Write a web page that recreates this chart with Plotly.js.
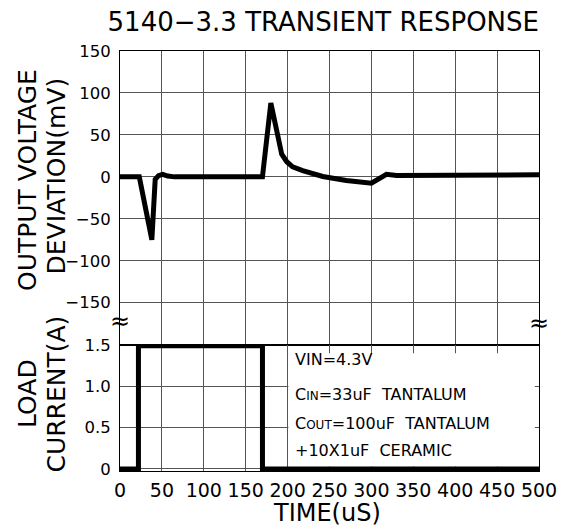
<!DOCTYPE html>
<html>
<head>
<meta charset="utf-8">
<script src="https://cdn.plot.ly/plotly-3.0.1.min.js"></script>
<style>html,body{margin:0;padding:0;background:#fff;}</style>
</head>
<body>
<div id="chart" style="width:563px;height:529px;"></div>
<script>
// ---- data ----
const timeVoltage = [0, 23, 38, 42, 46, 51, 57, 65, 170, 180, 193, 199, 206, 218, 242, 270, 300, 318, 330, 400, 500];
const voltageDev  = [0, 0, -75, -3, 1.5, 3, 1, 0, 0, 88, 27, 18, 12, 7.5, 0.5, -4.3, -7.5, 3, 1.5, 1.5, 2.5];
const timeCurrent = [0, 22, 22, 170, 170, 500];
const loadCurrent = [0, 0, 1.49, 1.49, 0, 0];
const xTickVals = [0, 50, 100, 150, 200, 250, 300, 350, 400, 450, 500];
const xTickText = ['0', '50', '100', '150', '200', '250', '300', '350', '400', '450', '500'];
const vTickVals = [-150, -100, -50, 0, 50, 100, 150];
const vTickText = ['\u2212150', '\u2212100', '\u221250', '0', '50', '100', '150'];
const iTickVals = [0, 0.5, 1.0, 1.5];
const iTickText = ['0', '0.5', '1.0', '1.5'];
const noteLines = ['VIN=4.3V',
  'C<span style="font-size:12px">IN</span>=33uF  TANTALUM',
  'C<span style="font-size:12px">OUT</span>=100uF  TANTALUM',
  '+10X1uF  CERAMIC'];

const FONT = 'DejaVu Sans, Verdana, sans-serif';
const gridCol = '#555';

const traces = [
  {x: timeVoltage, y: voltageDev, xaxis: 'x', yaxis: 'y', mode: 'lines',
   line: {color: '#000', width: 5}, hoverinfo: 'skip'},
  {x: timeCurrent, y: loadCurrent, xaxis: 'x2', yaxis: 'y2', mode: 'lines',
   line: {color: '#000', width: 5}, hoverinfo: 'skip'}
];

const axBase = {showline: true, linecolor: '#000', linewidth: 1, mirror: true,
  showgrid: true, gridcolor: gridCol, gridwidth: 1, zeroline: false, ticks: ''};

const noteY = [359, 394, 423, 450];
const annotations = [
  {text: 'OUTPUT VOLTAGE', xref: 'paper', yref: 'paper', x: (27 - 120) / 419, y: (471 - 180) / 420,
   textangle: -90, showarrow: false, xanchor: 'center', yanchor: 'middle', font: {family: FONT, size: 25, color: '#000'}},
  {text: 'DEVIATION(mV)', xref: 'paper', yref: 'paper', x: (55.5 - 120) / 419, y: (471 - 176) / 420,
   textangle: -90, showarrow: false, xanchor: 'center', yanchor: 'middle', font: {family: FONT, size: 25, color: '#000'}},
  {text: 'LOAD', xref: 'paper', yref: 'paper', x: (27 - 120) / 419, y: (471 - 394) / 420,
   textangle: -90, showarrow: false, xanchor: 'center', yanchor: 'middle', font: {family: FONT, size: 25, color: '#000'}},
  {text: 'CURRENT(A)', xref: 'paper', yref: 'paper', x: (55.5 - 120) / 419, y: (471 - 394) / 420,
   textangle: -90, showarrow: false, xanchor: 'center', yanchor: 'middle', font: {family: FONT, size: 25, color: '#000'}},
  {text: 'TIME(uS)', xref: 'paper', yref: 'paper', x: (327 - 120) / 419, y: (471 - 513) / 420,
   showarrow: false, xanchor: 'center', yanchor: 'middle', font: {family: FONT, size: 24, color: '#000'}},
  {text: '\u2248', xref: 'paper', yref: 'paper', x: 0, y: (471 - 321) / 420, showarrow: false,
   xanchor: 'center', yanchor: 'middle', font: {family: FONT, size: 24, color: '#000'}},
  {text: '\u2248', xref: 'paper', yref: 'paper', x: 1, y: (471 - 323) / 420, showarrow: false,
   xanchor: 'center', yanchor: 'middle', font: {family: FONT, size: 24, color: '#000'}}
];
noteLines.forEach((t, i) => annotations.push({
  text: t, xref: 'paper', yref: 'paper', x: (293 - 120) / 419, y: (471 - noteY[i]) / 420,
  showarrow: false, xanchor: 'left', yanchor: 'middle', font: {family: FONT, size: 16, color: '#000'}
}));

const layout = {
  width: 563, height: 529,
  margin: {l: 120, r: 24, t: 51, b: 58},
  paper_bgcolor: '#fff', plot_bgcolor: '#fff',
  showlegend: false,
  font: {family: FONT, color: '#000'},
  title: {text: '5140\u22123.3 TRANSIENT RESPONSE', xref: 'paper', x: 1, xanchor: 'right',
          yref: 'container', y: 1 - 21.5 / 529, yanchor: 'middle',
          font: {family: FONT, size: 26, color: '#000'}},
  xaxis: Object.assign({}, axBase, {domain: [0, 1], anchor: 'y', range: [0, 500],
          tickmode: 'array', tickvals: xTickVals, showticklabels: false}),
  yaxis: Object.assign({}, axBase, {domain: [0.3, 1], anchor: 'x', range: [-200.4, 150],
          tickmode: 'array', tickvals: vTickVals, ticktext: vTickText,
          tickfont: {family: FONT, size: 16.5, color: '#000'}, ticklabelstandoff: 5}),
  xaxis2: Object.assign({}, axBase, {domain: [0, 1], anchor: 'y2', range: [0, 500], matches: 'x',
          tickmode: 'array', tickvals: xTickVals, ticktext: xTickText,
          tickfont: {family: FONT, size: 19, color: '#000'}, ticklabelstandoff: 2}),
  yaxis2: Object.assign({}, axBase, {domain: [0, 0.3], anchor: 'x2', range: [-0.025, 1.5],
          tickmode: 'array', tickvals: iTickVals, ticktext: iTickText,
          tickfont: {family: FONT, size: 16.5, color: '#000'}, ticklabelstandoff: 5}),
  shapes: [
    {type: 'rect', xref: 'x2', yref: 'y2', x0: 201, x1: 495, y0: 0.03, y1: 1.40,
     fillcolor: '#fff', line: {width: 0}, layer: 'between'},
    {type: 'rect', xref: 'x2', yref: 'y2', x0: 495, x1: 499, y0: 0.03, y1: 0.48,
     fillcolor: '#fff', line: {width: 0}, layer: 'between'}
  ],
  annotations: annotations
};

Plotly.newPlot('chart', traces, layout, {staticPlot: true, displayModeBar: false});
</script>
</body>
</html>
